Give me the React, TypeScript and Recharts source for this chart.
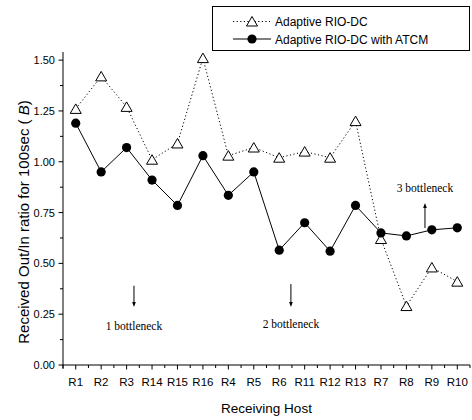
import React from 'react';
import { LineChart, Line, XAxis, YAxis, Legend, ReferenceLine, ReferenceDot, Label } from 'recharts';

const hosts = ['R1', 'R2', 'R3', 'R14', 'R15', 'R16', 'R4', 'R5', 'R6', 'R11', 'R12', 'R13', 'R7', 'R8', 'R9', 'R10'];
const rioDc = [1.26, 1.42, 1.27, 1.01, 1.09, 1.51, 1.03, 1.07, 1.02, 1.05, 1.02, 1.2, 0.62, 0.29, 0.48, 0.41];
const rioDcAtcm = [1.19, 0.95, 1.07, 0.91, 0.785, 1.03, 0.835, 0.95, 0.565, 0.7, 0.56, 0.785, 0.65, 0.635, 0.665, 0.675];
const seriesNames = ['Adaptive RIO-DC', 'Adaptive RIO-DC with ATCM'];
const yTicks = [0, 0.125, 0.25, 0.375, 0.5, 0.625, 0.75, 0.875, 1, 1.125, 1.25, 1.375, 1.5];

// annotations: [label, x position (category index), text y, arrow from y, arrow to y]
const notes: [string, number, number, number, number][] = [
  ['1 bottleneck', 2.29, 0.19, 0.39, 0.285],
  ['2 bottleneck', 8.46, 0.2, 0.398, 0.285],
  ['3 bottleneck', 13.73, 0.87, 0.674, 0.797],
];

const data = hosts.map((h, i) => ({ host: h, pos: i, a: rioDc[i], b: rioDcAtcm[i] }));

const SANS = '"Liberation Sans", Arial, sans-serif';
const SERIF = '"Liberation Serif", "Times New Roman", serif';
const HALF_STEP = 407 / 32;

const Triangle = (props: any) => {
  const { cx, cy } = props;
  if (cx == null || cy == null) return null;
  return (
    <polygon
      points={`${cx},${cy - 5} ${cx - 5.5},${cy + 4.5} ${cx + 5.5},${cy + 4.5}`}
      fill="#fff"
      stroke="#000"
      strokeWidth={1}
    />
  );
};

const Dot = (props: any) => {
  const { cx, cy } = props;
  if (cx == null || cy == null) return null;
  return <circle cx={cx} cy={cy} r={4.6} fill="#000" />;
};

const YTick = (props: any) => {
  const { x, y, payload } = props;
  const v = payload.value;
  const major = Math.abs(v * 4 - Math.round(v * 4)) < 1e-6;
  return (
    <g>
      <line x1={x - (major ? 4.5 : 3)} x2={x} y1={y} y2={y} stroke="#000" strokeWidth={1} />
      {v === 0 && <line x1={x} x2={x} y1={y} y2={y + 4} stroke="#000" strokeWidth={1} />}
      {major && (
        <text x={x - 8} y={y} dy={4} textAnchor="end" fontSize={11} fontFamily={SANS} fill="#000">
          {v.toFixed(2)}
        </text>
      )}
    </g>
  );
};

const XTick = (props: any) => {
  const { x, y, payload, index } = props;
  const last = index === hosts.length - 1;
  return (
    <g>
      <line x1={x} x2={x} y1={y} y2={y + 4.5} stroke="#000" strokeWidth={1} />
      <line x1={x - HALF_STEP} x2={x - HALF_STEP} y1={y} y2={y + 3} stroke="#000" strokeWidth={1} />
      {last && <line x1={x + HALF_STEP} x2={x + HALF_STEP} y1={y} y2={y + 3} stroke="#000" strokeWidth={1} />}
      <text x={x} y={y + 21} textAnchor="middle" fontSize={11.5} fontFamily={SANS} fill="#000">
        {payload.value}
      </text>
    </g>
  );
};

const Arrow = (props: any) => {
  const { x1, y1, x2, y2 } = props;
  const dir = y2 > y1 ? 1 : -1;
  return (
    <g>
      <line x1={x1} y1={y1} x2={x2} y2={y2 - dir * 2} stroke="#000" strokeWidth={1} />
      <polygon points={`${x2},${y2} ${x2 - 1.8},${y2 - dir * 5} ${x2 + 1.8},${y2 - dir * 5}`} fill="#000" />
    </g>
  );
};

const NoteText = (text: string) => (props: any) => {
  const { cx, cy } = props;
  return (
    <text x={cx} y={cy} dy={4} textAnchor="middle" fontSize={11.5} fontFamily={SERIF} fill="#000">
      {text}
    </text>
  );
};

const LegendBox = () => (
  <div
    style={{
      width: 258,
      height: 45,
      border: '1px solid #000',
      boxSizing: 'border-box',
      background: '#fff',
    }}
  >
    <svg width={256} height={43} style={{ display: 'block' }}>
      <line x1={20} x2={57} y1={14.5} y2={14.5} stroke="#000" strokeWidth={1} strokeDasharray="1.2 2.4" />
      <Triangle cx={39} cy={14.5} />
      <text x={62} y={14.5} dy={4.5} fontSize={12} fontFamily={SANS} fill="#000">
        {seriesNames[0]}
      </text>
      <line x1={20} x2={58} y1={32} y2={32} stroke="#000" strokeWidth={1} />
      <Dot cx={39} cy={32} />
      <text x={62} y={32} dy={4.5} fontSize={12} fontFamily={SANS} fill="#000">
        {seriesNames[1]}
      </text>
    </svg>
  </div>
);

export default function App() {
  return (
    <div style={{ position: 'absolute', left: 0, top: 0, background: '#fff' }}>
      <LineChart width={472} height={420} data={data} margin={{ top: 52, right: 2, bottom: 15, left: 13 }}>
        <XAxis
          dataKey="host"
          type="category"
          scale="point"
          padding={{ left: HALF_STEP, right: HALF_STEP }}
          height={40}
          interval={0}
          tickSize={0}
          tickMargin={0}
          tickLine={false}
          axisLine={{ stroke: '#000', strokeWidth: 1 }}
          tick={<XTick />}
        >
          <Label
            content={(p: any) => {
              const vb = p.viewBox;
              return (
                <text
                  x={vb.x + vb.width / 2}
                  y={408}
                  dy={5}
                  textAnchor="middle"
                  fontSize={13.5}
                  fontFamily={SANS}
                  fill="#000"
                >
                  Receiving Host
                </text>
              );
            }}
          />
        </XAxis>
        <XAxis
          xAxisId="n"
          dataKey="pos"
          type="number"
          domain={[-0.5, 15.5]}
          allowDataOverflow
          padding={{ left: 0, right: 0 }}
          hide
        />
        <YAxis
          width={50}
          type="number"
          domain={[0, 1.54]}
          allowDataOverflow
          ticks={yTicks}
          interval={0}
          tickSize={0}
          tickMargin={0}
          tickLine={false}
          axisLine={{ stroke: '#000', strokeWidth: 1 }}
          tick={<YTick />}
        >
          <Label
            content={() => (
              <text
                x={24}
                y={222}
                dy={5}
                transform="rotate(-90 24 222)"
                textAnchor="middle"
                fontSize={15}
                fontFamily={SANS}
                fill="#000"
              >
                Received Out/In ratio for 100sec (<tspan fontStyle="italic"> B</tspan>)
              </text>
            )}
          />
        </YAxis>
        <Legend
          layout="vertical"
          align="center"
          verticalAlign="middle"
          wrapperStyle={{ left: 212, top: 6, width: 258, height: 45 }}
          content={() => <LegendBox />}
        />
        {notes.map(([t, x, ty, a1, a2]) => (
          <ReferenceLine
            key={'l' + t}
            xAxisId="n"
            segment={[
              { x, y: a1 },
              { x, y: a2 },
            ]}
            stroke="#000"
            shape={<Arrow />}
          />
        ))}
        {notes.map(([t, x, ty]) => (
          <ReferenceDot key={'t' + t} xAxisId="n" x={x} y={ty} r={0} shape={NoteText(t)} />
        ))}
        <Line
          dataKey="a"
          name={seriesNames[0]}
          stroke="#000"
          strokeWidth={1}
          strokeDasharray="1.2 2.4"
          dot={<Triangle />}
          activeDot={false}
          isAnimationActive={false}
        />
        <Line
          dataKey="b"
          name={seriesNames[1]}
          stroke="#000"
          strokeWidth={1}
          dot={<Dot />}
          activeDot={false}
          isAnimationActive={false}
        />
      </LineChart>
    </div>
  );
}
